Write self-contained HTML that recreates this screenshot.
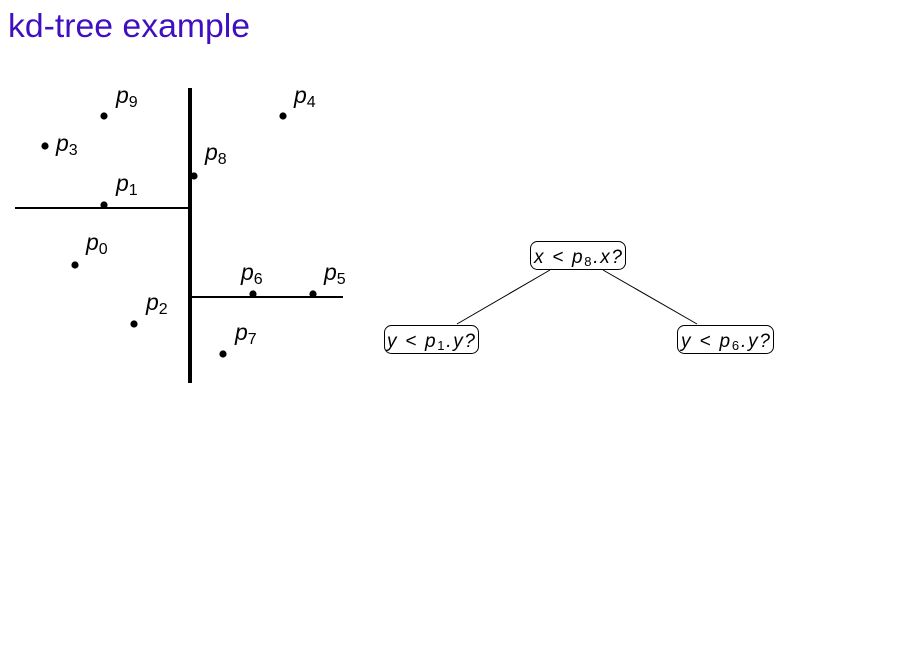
<!DOCTYPE html>
<html><head><style>body{margin:0;background:#fff}svg{display:block}</style></head><body>
<svg width="918" height="664" xmlns="http://www.w3.org/2000/svg" font-family="Liberation Sans, DejaVu Sans, sans-serif">
<text x="8" y="37" font-size="33" fill="#4010c0" textLength="242" lengthAdjust="spacingAndGlyphs">kd-tree example</text>
<line x1="190" y1="88" x2="190" y2="383" stroke="#000" stroke-width="4"/>
<line x1="15" y1="208" x2="190" y2="208" stroke="#000" stroke-width="2"/>
<line x1="190" y1="297" x2="343" y2="297" stroke="#000" stroke-width="2"/>
<g fill="#000">
<circle cx="104" cy="116" r="3.6"/><circle cx="45" cy="146" r="3.6"/><circle cx="194" cy="176" r="3.6"/>
<circle cx="104" cy="205" r="3.6"/><circle cx="75" cy="265" r="3.6"/><circle cx="134" cy="324" r="3.6"/>
<circle cx="283" cy="116" r="3.6"/><circle cx="253" cy="294" r="3.6"/><circle cx="313" cy="294" r="3.6"/>
<circle cx="223" cy="354" r="3.6"/>
</g>
<g font-size="23" font-style="italic">
<text x="116" y="103">p<tspan font-size="16" font-style="normal" dy="4">9</tspan></text>
<text x="56" y="151">p<tspan font-size="16" font-style="normal" dy="4">3</tspan></text>
<text x="205" y="160">p<tspan font-size="16" font-style="normal" dy="4">8</tspan></text>
<text x="116" y="191">p<tspan font-size="16" font-style="normal" dy="4">1</tspan></text>
<text x="86" y="250">p<tspan font-size="16" font-style="normal" dy="4">0</tspan></text>
<text x="146" y="310">p<tspan font-size="16" font-style="normal" dy="4">2</tspan></text>
<text x="294" y="103">p<tspan font-size="16" font-style="normal" dy="4">4</tspan></text>
<text x="241" y="280">p<tspan font-size="16" font-style="normal" dy="4">6</tspan></text>
<text x="324" y="280">p<tspan font-size="16" font-style="normal" dy="4">5</tspan></text>
<text x="235" y="340">p<tspan font-size="16" font-style="normal" dy="4">7</tspan></text>
</g>
<line x1="550" y1="270" x2="457" y2="324" stroke="#000" stroke-width="1"/>
<line x1="603" y1="270" x2="697" y2="324" stroke="#000" stroke-width="1"/>
<g fill="#fff" stroke="#000" stroke-width="1">
<rect x="530.5" y="241.5" width="95" height="28" rx="7"/>
<rect x="384.5" y="325.5" width="94" height="28" rx="7"/>
<rect x="677.5" y="325.5" width="96" height="28" rx="7"/>
</g>
<g font-size="19" font-style="italic">
<text x="534" y="263" textLength="88" lengthAdjust="spacing">x &lt; p<tspan font-size="13" font-style="normal" dy="3">8</tspan><tspan dy="-3">.x?</tspan></text>
<text x="387" y="347" textLength="88" lengthAdjust="spacing">y &lt; p<tspan font-size="13" font-style="normal" dy="3">1</tspan><tspan dy="-3">.y?</tspan></text>
<text x="681" y="347" textLength="89" lengthAdjust="spacing">y &lt; p<tspan font-size="13" font-style="normal" dy="3">6</tspan><tspan dy="-3">.y?</tspan></text>
</g>
</svg>
</body></html>
